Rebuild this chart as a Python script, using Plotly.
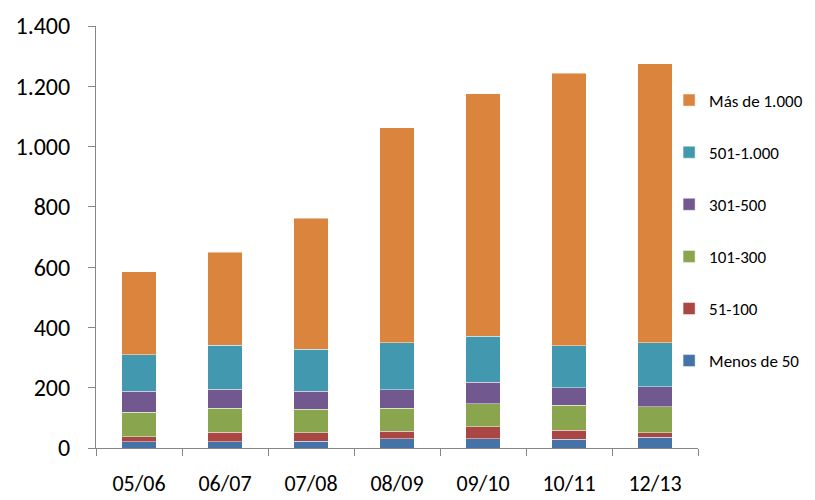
import plotly.graph_objects as go

categories = ["05/06", "06/07", "07/08", "08/09", "09/10", "10/11", "12/13"]
menos_50 = [20, 20, 22, 30, 30, 29, 35]
r51_100 = [17, 33, 28, 26, 40, 30, 16]
r101_300 = [81, 79, 79, 76, 77, 83, 86]
r301_500 = [70, 63, 59, 61, 71, 58, 66]
r501_1000 = [122, 146, 140, 157, 152, 140, 147]
mas_1000 = [275, 309, 434, 712, 805, 904, 924]

series = [
    ("Menos de 50", menos_50, "#4572A7"),
    ("51-100", r51_100, "#AA4643"),
    ("101-300", r101_300, "#89A54E"),
    ("301-500", r301_500, "#71588F"),
    ("501-1.000", r501_1000, "#4198AF"),
    ("Más de 1.000", mas_1000, "#DB843D"),
]

FONT = "Carlito, Lato, 'Open Sans', sans-serif"

fig = go.Figure()
for i, (name, vals, col) in enumerate(series):
    fig.add_trace(go.Bar(
        x=categories, y=vals, name=name, legendgroup=f"g{i}",
        legendrank=100 - i,
        marker=dict(color=col, line=dict(color="rgba(255,255,255,0.45)", width=1)),
        width=0.4,
    ))

fig.update_layout(
    width=815, height=500,
    barmode="stack",
    paper_bgcolor="white", plot_bgcolor="white",
    margin=dict(l=96, r=117, t=26, b=52, autoexpand=False),
    separators=",.",
    font=dict(family=FONT, color="#000000"),
    showlegend=True,
    legend=dict(
        traceorder="grouped",
        tracegroupgap=27,
        x=0.952, xanchor="left", y=0.866, yanchor="top",
        font=dict(size=17, family=FONT, color="#000000"),
        itemwidth=30,
        bgcolor="rgba(0,0,0,0)",
    ),
    xaxis=dict(
        type="category",
        showline=True, linecolor="#868686", linewidth=1,
        ticks="outside", ticklen=7, tickcolor="#868686",
        tickson="boundaries",
        tickfont=dict(size=22, family=FONT),
        ticklabelstandoff=16,
        showgrid=False, automargin=False,
    ),
    yaxis=dict(
        range=[0, 1400], tick0=0, dtick=200,
        showline=True, linecolor="#868686", linewidth=1,
        ticks="outside", ticklen=7, tickcolor="#868686",
        tickfont=dict(size=24, family=FONT),
        separatethousands=True,
        ticklabelstandoff=13,
        showgrid=False, zeroline=False, automargin=False,
    ),
)

fig.write_html(
    "out.html",
    config={"displayModeBar": False},
    post_script="document.body.style.margin='0';document.body.style.padding='0';",
)
